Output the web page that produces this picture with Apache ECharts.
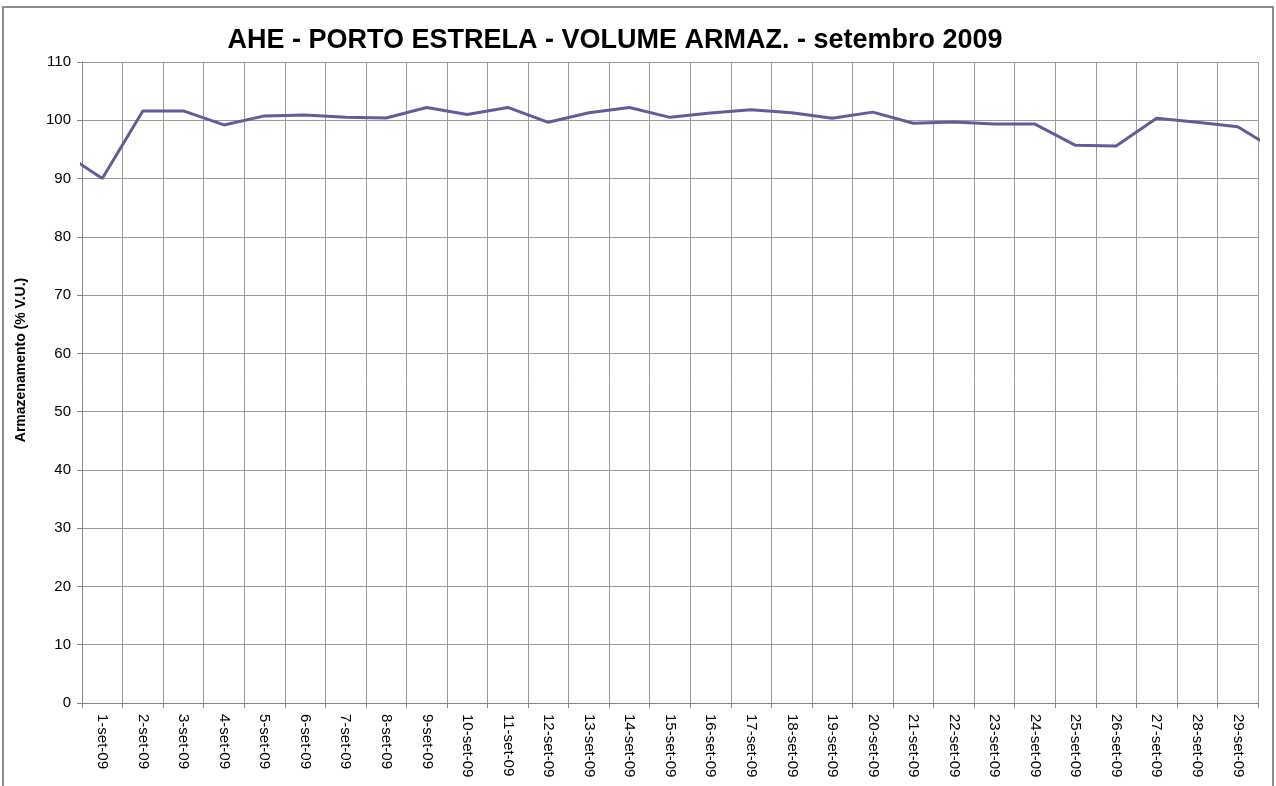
<!DOCTYPE html>
<html>
<head>
<meta charset="utf-8">
<title>AHE - PORTO ESTRELA - VOLUME ARMAZ.</title>
<script src="https://cdn.jsdelivr.net/npm/echarts@6/dist/echarts.min.js"></script>
<style>
  html, body { margin: 0; padding: 0; background: #fff; }
  #chart { width: 1276px; height: 786px; }
</style>
</head>
<body>
<div id="chart"></div>
<script>
// dias do mês (eixo de categorias)
const dayLabels = [
  '1-set-09', '2-set-09', '3-set-09', '4-set-09', '5-set-09', '6-set-09', '7-set-09',
  '8-set-09', '9-set-09', '10-set-09', '11-set-09', '12-set-09', '13-set-09', '14-set-09',
  '15-set-09', '16-set-09', '17-set-09', '18-set-09', '19-set-09', '20-set-09', '21-set-09',
  '22-set-09', '23-set-09', '24-set-09', '25-set-09', '26-set-09', '27-set-09', '28-set-09',
  '29-set-09'
];
// armazenamento (% V.U.) de 1-set a 29-set
const volume = [
  90.0, 101.6, 101.6, 99.2, 100.75, 100.9, 100.5, 100.4, 102.2, 101.0,
  102.2, 99.65, 101.3, 102.2, 100.5, 101.25, 101.8, 101.3, 100.35, 101.4,
  99.5, 99.7, 99.35, 99.35, 95.7, 95.6, 100.35, 99.65, 98.9
];
// pontos fora da janela (31-ago e 30-set), cortados pela borda do gráfico
const prevDay = 94.6;
const nextDay = 94.7;
const yTicks = { min: 0, max: 110, step: 10 };

const chart = echarts.init(document.getElementById('chart'));

// série em eixo numérico: dia 0 = 31-ago, 1..29 = setembro, 30 = 30-set
const seriesData = [[0, prevDay]]
  .concat(volume.map((v, i) => [i + 1, v]))
  .concat([[dayLabels.length + 1, nextDay]]);

const font = 'Liberation Sans, Arial, sans-serif';

const option = {
  animation: false,
  title: {
    text: 'AHE - PORTO ESTRELA - VOLUME ARMAZ. - setembro 2009',
    left: 610,
    top: 22,
    textAlign: 'center',
    textStyle: {
      fontFamily: 'Liberation Sans Narrow, Liberation Sans, sans-serif',
      fontSize: 27,
      fontWeight: 'bold',
      color: '#000'
    }
  },
  graphic: [
    {
      type: 'rect',
      shape: { x: 3, y: 7, width: 1270, height: 800 },
      style: { fill: 'none', stroke: '#8c8c8c', lineWidth: 2 },
      silent: true,
      z: -1
    },
    {
      // título do eixo Y (um pouco acima do centro, como no original)
      type: 'text',
      x: 21,
      y: 360,
      rotation: Math.PI / 2,
      style: {
        text: 'Armazenamento (% V.U.)',
        fontFamily: font,
        fontSize: 14,
        fontWeight: 'bold',
        fill: '#000',
        align: 'center',
        verticalAlign: 'middle'
      }
    }
  ],
  grid: {
    left: 82,
    top: 62,
    right: 18,
    bottom: 83,
    containLabel: false
  },
  xAxis: [
    {
      type: 'category',
      data: dayLabels,
      boundaryGap: true,
      axisLine: { show: true, lineStyle: { color: '#868686', width: 1 } },
      axisTick: { show: true, interval: 0, length: 5, lineStyle: { color: '#868686' } },
      splitLine: { show: true, interval: 0, lineStyle: { color: '#9a9a9a', width: 1 } },
      axisLabel: {
        interval: 0,
        rotate: -90,
        margin: 11,
        color: '#000',
        fontFamily: font,
        fontSize: 15
      }
    },
    {
      type: 'value',
      show: false,
      min: 0.5,
      max: dayLabels.length + 0.5,
      splitLine: { show: false }
    }
  ],
  yAxis: {
    type: 'value',
    min: yTicks.min,
    max: yTicks.max,
    interval: yTicks.step,
    axisLine: { show: true, lineStyle: { color: '#868686', width: 1 } },
    axisTick: { show: true, length: 5, lineStyle: { color: '#868686' } },
    splitLine: { show: true, lineStyle: { color: '#9a9a9a', width: 1 } },
    axisLabel: {
      color: '#000',
      fontFamily: font,
      fontSize: 15,
      margin: 11
    }
  },
  series: [{
    name: 'Armazenamento',
    type: 'line',
    xAxisIndex: 1,
    data: seriesData,
    showSymbol: false,
    clip: true,
    lineStyle: { color: '#5f5e9a', width: 3 },
    itemStyle: { color: '#5f5e9a' }
  }]
};

chart.setOption(option);
</script>
</body>
</html>
